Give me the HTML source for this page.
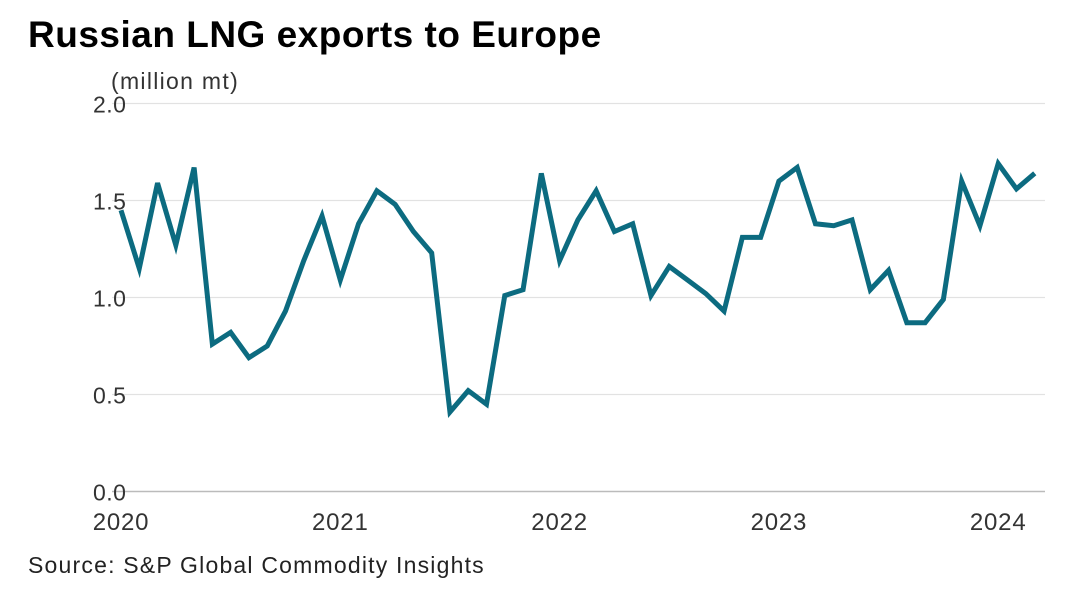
<!DOCTYPE html>
<html><head><meta charset="utf-8"><style>
html,body{margin:0;padding:0;background:#fff;}
svg{display:block;font-family:"Liberation Sans",sans-serif;}
</style></head><body>
<svg id="chart" width="1080" height="589" viewBox="0 0 1080 589">
<text x="28" y="47" font-size="37" font-weight="bold" fill="#000" letter-spacing="0.5">Russian LNG exports to Europe</text>
<text x="111" y="89" font-size="23" fill="#333" letter-spacing="1.3">(million mt)</text>
<g id="grid"></g>
<g id="xt"></g>
<polyline id="line" fill="none" stroke="#0c6b80" stroke-width="5" stroke-linejoin="miter"/>
<text x="28" y="573" font-size="23" fill="#222" letter-spacing="1.2">Source: S&amp;P Global Commodity Insights</text>
</svg>
<script>
const yTicks=[0,0.5,1.0,1.5,2.0];
const yTickLabels=["0.0","0.5","1.0","1.5","2.0"];
const xTickYears=[2020,2021,2022,2023,2024];
const values=[1.45,1.15,1.59,1.27,1.67,0.76,0.82,0.69,0.75,0.93,1.19,1.42,
1.09,1.38,1.55,1.48,1.34,1.23,0.41,0.52,0.45,1.01,1.04,1.64,
1.19,1.40,1.55,1.34,1.38,1.01,1.16,1.09,1.02,0.93,1.31,1.31,
1.60,1.67,1.38,1.37,1.40,1.04,1.14,0.87,0.87,0.99,1.60,1.37,
1.69,1.56,1.64];
const y=v=>491.5-v*194;
const x=i=>121+i*(219.3/12);
const ns="http://www.w3.org/2000/svg";
const grid=document.getElementById('grid');
yTicks.forEach((t,k)=>{
 const l=document.createElementNS(ns,'line');
 
 
 l.setAttribute('x1',112);l.setAttribute('x2',1045);
 l.setAttribute('y1',y(t));l.setAttribute('y2',y(t));
 l.setAttribute('stroke',t===0?'#bbb':'#e2e2e2');l.setAttribute('stroke-width',t===0?1.5:1.2);
 grid.appendChild(l);
 const tx=document.createElementNS(ns,'text');
 
 
 tx.setAttribute('x',93);tx.setAttribute('y',y(t)+9);
 tx.setAttribute('font-size','23');tx.setAttribute('fill','#333');
 tx.setAttribute('letter-spacing','0.5');
 tx.textContent=yTickLabels[k];grid.appendChild(tx);
});
const xt=document.getElementById('xt');
xTickYears.forEach((yr,k)=>{
 const tx=document.createElementNS(ns,'text');
 
 
 tx.setAttribute('x',x(k*12));tx.setAttribute('y',530);
 tx.setAttribute('text-anchor','middle');
 tx.setAttribute('font-size','24');tx.setAttribute('fill','#333');
 tx.setAttribute('letter-spacing','0.8');
 tx.textContent=yr;xt.appendChild(tx);
});
document.getElementById('line').setAttribute('points',values.map((v,i)=>x(i)+','+y(v)).join(' '));
</script>
</body></html>
